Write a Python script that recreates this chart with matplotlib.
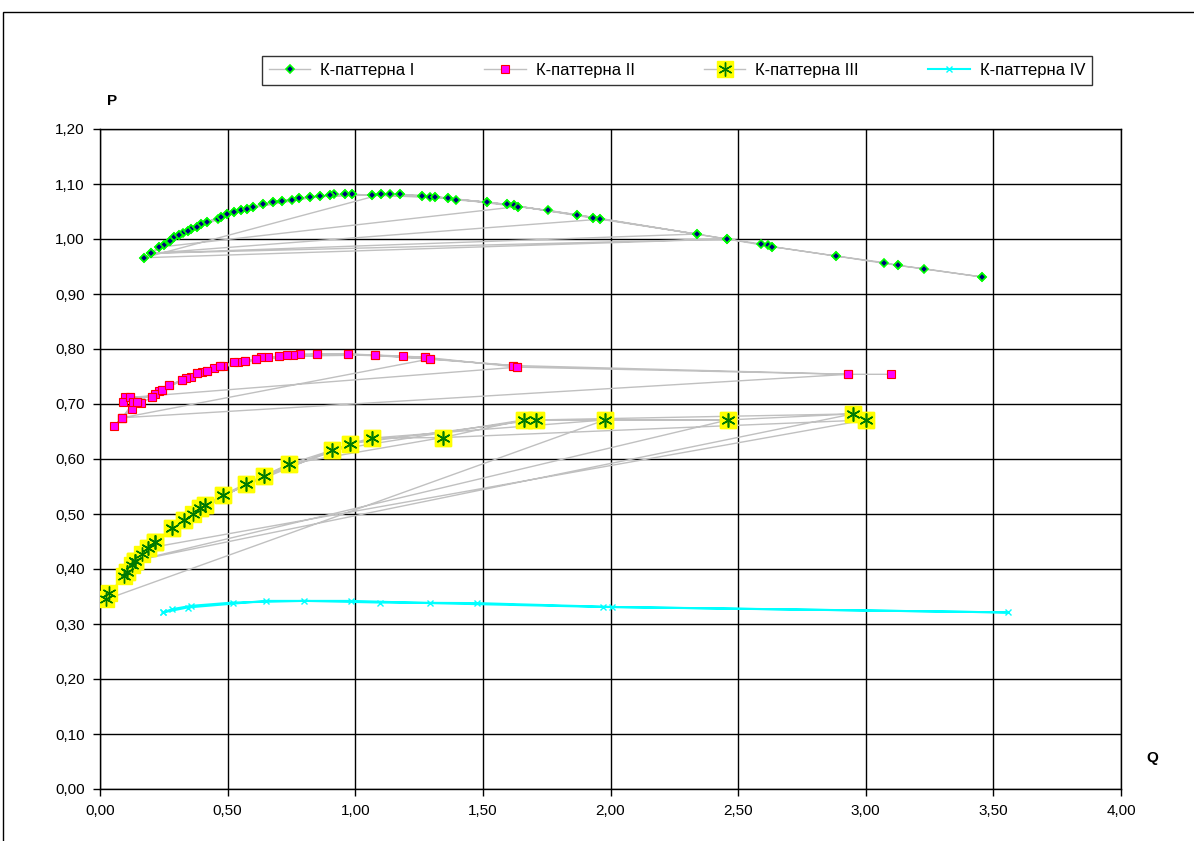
import matplotlib
matplotlib.use('Agg')
import matplotlib.pyplot as plt
from matplotlib.patches import Rectangle
from matplotlib.ticker import FuncFormatter, MultipleLocator

plt.rcParams['font.family'] = ['Liberation Sans', 'DejaVu Sans']

# Series data, listed in the order the points are joined
q1 = [3.455, 3.227, 3.127, 3.073, 2.884, 2.634, 2.616, 2.590, 2.456, 2.337, 1.959, 1.930,
      1.870, 1.755, 1.638, 1.621, 1.593, 1.518, 1.395, 1.365, 1.312, 1.293, 1.260, 1.175,
      1.136, 1.101, 1.064, 0.988, 0.960, 0.918, 0.901, 0.862, 0.823, 0.780, 0.751, 0.712,
      0.679, 0.640, 0.601, 0.575, 0.551, 0.526, 0.497, 0.473, 0.461, 0.418, 0.396, 0.380,
      0.355, 0.343, 0.327, 0.311, 0.290, 0.274, 0.251, 0.230, 0.199, 0.174,
      2.456, 1.930, 1.621, 1.312, 0.988, 0.780, 0.601, 0.473, 0.355, 0.251, 0.199,
      2.337, 1.870, 1.518, 1.175, 0.901, 0.679, 0.526, 0.396, 0.290, 0.199,
      1.959, 1.593, 1.260, 0.960, 0.712, 0.551, 0.418, 0.311, 0.230,
      1.638, 1.365, 1.064, 0.823, 0.640, 0.497, 0.380, 0.274, 0.174,
      1.101, 0.862, 0.575, 0.343, 0.199,
      2.456, 2.634, 2.884, 3.127, 3.455]
p1 = [0.931, 0.946, 0.952, 0.957, 0.969, 0.986, 0.989, 0.991, 1.000, 1.009, 1.036, 1.039,
      1.044, 1.052, 1.059, 1.061, 1.063, 1.067, 1.071, 1.074, 1.077, 1.077, 1.079, 1.081,
      1.081, 1.081, 1.080, 1.081, 1.081, 1.081, 1.080, 1.078, 1.077, 1.074, 1.071, 1.070,
      1.068, 1.064, 1.058, 1.055, 1.053, 1.049, 1.045, 1.040, 1.037, 1.031, 1.027, 1.022,
      1.018, 1.015, 1.011, 1.008, 1.003, 0.997, 0.989, 0.985, 0.974, 0.966,
      1.000, 1.039, 1.061, 1.077, 1.081, 1.074, 1.058, 1.040, 1.018, 0.989, 0.974,
      1.009, 1.044, 1.067, 1.081, 1.080, 1.068, 1.049, 1.027, 1.003, 0.974,
      1.036, 1.063, 1.079, 1.081, 1.070, 1.053, 1.031, 1.008, 0.985,
      1.059, 1.074, 1.080, 1.077, 1.064, 1.045, 1.022, 0.997, 0.966,
      1.081, 1.078, 1.055, 1.015, 0.974,
      1.000, 0.986, 0.969, 0.952, 0.931]

q2 = [3.100, 2.932, 1.635, 1.617, 1.293, 1.275, 1.188, 1.079, 0.970, 0.849, 0.784, 0.755,
      0.734, 0.703, 0.658, 0.632, 0.611, 0.569, 0.542, 0.526, 0.483, 0.470, 0.447, 0.418,
      0.401, 0.381, 0.355, 0.337, 0.320, 0.272, 0.242, 0.231, 0.217, 0.205, 0.162, 0.146,
      0.131, 0.118, 0.098, 0.090, 0.125, 0.087, 0.055, 0.087,
      2.932, 1.617, 1.079, 0.703, 0.470, 0.320, 0.205, 0.118,
      1.635, 1.275, 0.849, 0.569, 0.381, 0.242, 0.131, 0.087,
      1.293, 0.970, 0.611, 0.418, 0.272, 0.146, 0.087]
p2 = [0.754, 0.754, 0.767, 0.770, 0.782, 0.785, 0.787, 0.789, 0.791, 0.791, 0.791, 0.789,
      0.789, 0.787, 0.785, 0.785, 0.782, 0.778, 0.776, 0.776, 0.770, 0.769, 0.765, 0.760,
      0.759, 0.756, 0.750, 0.747, 0.744, 0.734, 0.725, 0.723, 0.719, 0.713, 0.702, 0.704,
      0.703, 0.712, 0.712, 0.703, 0.691, 0.675, 0.660, 0.675,
      0.754, 0.770, 0.789, 0.787, 0.769, 0.744, 0.713, 0.712,
      0.767, 0.785, 0.791, 0.778, 0.756, 0.725, 0.703, 0.675,
      0.782, 0.791, 0.782, 0.760, 0.734, 0.704, 0.675]

q3 = [3.001, 2.950, 2.460, 1.978, 1.708, 1.660, 1.342, 1.064, 0.981, 0.909, 0.742, 0.643,
      0.572, 0.483, 0.410, 0.392, 0.365, 0.329, 0.281, 0.217, 0.189, 0.165, 0.137, 0.125,
      0.104, 0.095, 0.037, 0.025,
      1.978, 1.064, 0.643, 0.392, 0.217, 0.137,
      2.460, 1.660, 0.909, 0.483, 0.281, 0.137,
      2.950, 1.708, 0.981, 0.572, 0.329, 0.189,
      3.001, 1.342, 0.742, 0.410, 0.217, 0.104]
p3 = [0.671, 0.682, 0.671, 0.671, 0.671, 0.671, 0.639, 0.638, 0.628, 0.616, 0.591, 0.570,
      0.555, 0.535, 0.516, 0.511, 0.500, 0.489, 0.475, 0.449, 0.438, 0.428, 0.415, 0.408,
      0.395, 0.388, 0.357, 0.345,
      0.671, 0.638, 0.570, 0.511, 0.449, 0.415,
      0.671, 0.671, 0.616, 0.535, 0.475, 0.415,
      0.682, 0.671, 0.628, 0.555, 0.489, 0.438,
      0.671, 0.639, 0.591, 0.516, 0.449, 0.395]

q4 = [0.246, 0.283, 0.356, 0.521, 0.801, 1.097, 1.476, 2.005, 3.558,
      1.969, 1.291, 0.984, 0.649, 0.343, 0.246]
p4 = [0.321, 0.327, 0.333, 0.339, 0.342, 0.339, 0.338, 0.331, 0.321,
      0.331, 0.338, 0.342, 0.342, 0.330, 0.321]

labels = ['К-паттерна I', 'К-паттерна II', 'К-паттерна III', 'К-паттерна IV']

fig = plt.figure(figsize=(11.94, 8.41), dpi=100)
ax = fig.add_axes([100 / 1194, 1 - 789 / 841, 1021 / 1194, 660 / 841])

gray = '#c0c0c0'
l1, = ax.plot(q1, p1, color=gray, lw=1, marker='D', ms=4.5, mfc='#000080',
              mec='#00ff00', mew=1.2, label=labels[0], zorder=3)
l2, = ax.plot(q2, p2, color=gray, lw=1, marker='s', ms=5.5, mfc='#ff00ff',
              mec='#ff0000', mew=0.8, label=labels[1], zorder=3)
l3a, = ax.plot(q3, p3, color=gray, lw=1, marker='s', ms=12, mfc='#ffff00',
               mec='#ffff00', zorder=3)
l3b, = ax.plot(q3, p3, ls='none', marker=(6, 2, 0), ms=10, mec='#007a00',
               mew=1.0, zorder=4)
l4, = ax.plot(q4, p4, color='#00ffff', lw=1.5, marker='x', ms=4, mec='#00ffff',
              mew=1, label=labels[3], zorder=3)

ax.set_xlim(0, 4)
ax.set_ylim(0, 1.2)
ax.xaxis.set_major_locator(MultipleLocator(0.5))
ax.yaxis.set_major_locator(MultipleLocator(0.1))
fmt = FuncFormatter(lambda v, pos: f'{v:.2f}'.replace('.', ','))
ax.xaxis.set_major_formatter(fmt)
ax.yaxis.set_major_formatter(fmt)
ax.tick_params(direction='out', length=5, width=1, labelsize=11, pad=6)
ax.grid(True, color='black', lw=1)
ax.set_axisbelow(True)
for s in ax.spines.values():
    s.set_color('black')
    s.set_linewidth(1)

fig.text(112 / 1194, 1 - 101 / 841, 'P', fontsize=11, fontweight='bold',
         ha='center', va='center')
fig.text(1152 / 1194, 1 - 758 / 841, 'Q', fontsize=11, fontweight='bold',
         ha='center', va='center')

leg = fig.legend([l1, l2, (l3a, l3b), l4], labels, ncol=4, loc='center',
                 bbox_to_anchor=(262 / 1194, 1 - 97 / 841, 830 / 1194, 53 / 841),
                 mode='expand', fontsize=12, frameon=True, fancybox=False,
                 edgecolor='black', handlelength=2.5, borderaxespad=0,
                 borderpad=0.4, handletextpad=0.6)
leg.get_frame().set_linewidth(1)

# outer chart frame
fig.patches.append(Rectangle((3 / 1194, -0.05), 1.1, 1 - 12 / 841 + 0.05,
                             transform=fig.transFigure, fill=False,
                             edgecolor='black', lw=1))

fig.savefig('out.png', dpi=100)
